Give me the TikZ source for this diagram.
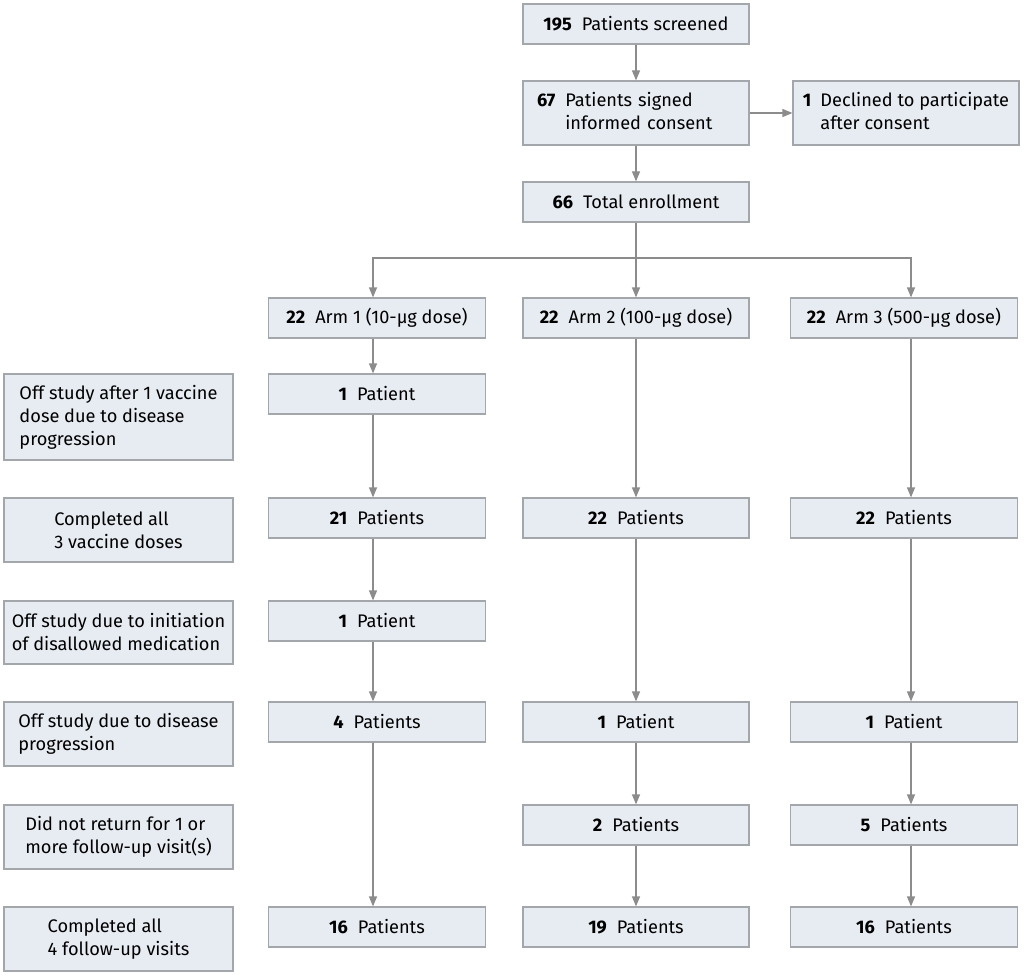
\documentclass[tikz,border=0pt]{standalone}
\usepackage{fontspec}
\setmainfont{Fira Sans}
\usetikzlibrary{arrows.meta}
\definecolor{boxfill}{HTML}{E7EBF2}
\definecolor{boxline}{HTML}{A3A6AB}
\definecolor{arrcol}{HTML}{8C8C8C}
\newcommand{\num}[1]{\textbf{#1}\hspace{0.55em}}
\begin{document}
\begin{tikzpicture}[x=1pt,y=-1pt,
  box/.style={rectangle, draw=boxline, fill=boxfill, line width=1.2pt, inner sep=0pt,
    minimum height=40, font=\fontsize{18.2}{23}\selectfont, align=left},
  lbox/.style={box, minimum width=229, minimum height=64},
  conn/.style={draw=arrcol, line width=1.2pt},
  arr/.style={conn, -{Triangle[width=8pt,length=10pt]}}]
\useasboundingbox (0,0) rectangle (1024,976);
\fill[white] (0,0) rectangle (1024,976);
% top
\node[box, minimum width=226] (scr) at (636,24) {\num{195}Patients screened};
\node[box, minimum width=226, minimum height=64, text width=198] (cons) at (636,113)
  {\begin{tabular}{@{}l@{\hspace{0.55em}}l@{}}\textbf{67}&Patients signed\\&informed consent\end{tabular}};
\node[box, minimum width=226, minimum height=64] (decl) at (906,113)
  {\begin{tabular}{@{}l@{\hspace{0.5em}}l@{}}\textbf{1}&Declined to participate\\&after consent\end{tabular}};
\node[box, minimum width=226] (enr) at (636,202) {\num{66}Total enrollment};
\coordinate (br) at (636,258);
% arms
\node[box, minimum width=217] (arm1) at (377,318) {\num{22}Arm 1 (10-µg dose)};
\node[box, minimum width=226] (arm2) at (636,318) {\num{22}Arm 2 (100-µg dose)};
\node[box, minimum width=227] (arm3) at (904,318) {\num{22}Arm 3 (500-µg dose)};
% left labels
\node[lbox, minimum height=86] (l1) at (118.5,417) {Off study after 1 vaccine\\dose due to disease\\progression};
\node[lbox] (l2) at (118.5,530) {Completed all\\3 vaccine doses};
\node[lbox, minimum height=63] (l3) at (118.5,632.5) {Off study due to initiation\\of disallowed medication};
\node[lbox] (l4) at (118.5,734) {Off study due to disease\\progression};
\node[lbox] (l5) at (118.5,837) {Did not return for 1 or\\more follow-up visit(s)};
\node[lbox] (l6) at (118.5,939) {Completed all\\4 follow-up visits};
% arm 1 column
\node[box, minimum width=217] (p1) at (377,394) {\num{1}Patient};
\node[box, minimum width=217] (c1) at (377,518) {\num{21}Patients};
\node[box, minimum width=217] (i1) at (377,621) {\num{1}Patient};
\node[box, minimum width=217] (d1) at (377,722) {\num{4}Patients};
\node[box, minimum width=217] (f1) at (377,927) {\num{16}Patients};
% arm 2 column
\node[box, minimum width=226] (c2) at (636,518) {\num{22}Patients};
\node[box, minimum width=226] (d2) at (636,722) {\num{1}Patient};
\node[box, minimum width=226] (n2) at (636,825) {\num{2}Patients};
\node[box, minimum width=226] (f2) at (636,927) {\num{19}Patients};
% arm 3 column
\node[box, minimum width=227] (c3) at (904,518) {\num{22}Patients};
\node[box, minimum width=227] (d3) at (904,722) {\num{1}Patient};
\node[box, minimum width=227] (n3) at (904,825) {\num{5}Patients};
\node[box, minimum width=227] (f3) at (904,927) {\num{16}Patients};
% connectors
\draw[arr] (scr) -- (cons);
\draw[arr] (cons) -- (decl);
\draw[arr] (cons) -- (enr);
\draw[conn] (enr.south) -- (br);
\draw[arr] (br) -| ([xshift=-4]arm1.north);
\draw[arr] (enr.south) -- (arm2.north);
\draw[arr] (br) -| ([xshift=7]arm3.north);
\foreach \a/\b in {arm1/p1, p1/c1, c1/i1, i1/d1, d1/f1}
  \draw[arr] ([xshift=-4]\a.south) -- ([xshift=-4]\b.north);
\foreach \a/\b in {arm2/c2, c2/d2, d2/n2, n2/f2}
  \draw[arr] (\a.south) -- (\b.north);
\foreach \a/\b in {arm3/c3, c3/d3, d3/n3, n3/f3}
  \draw[arr] ([xshift=7]\a.south) -- ([xshift=7]\b.north);
\end{tikzpicture}
\end{document}
